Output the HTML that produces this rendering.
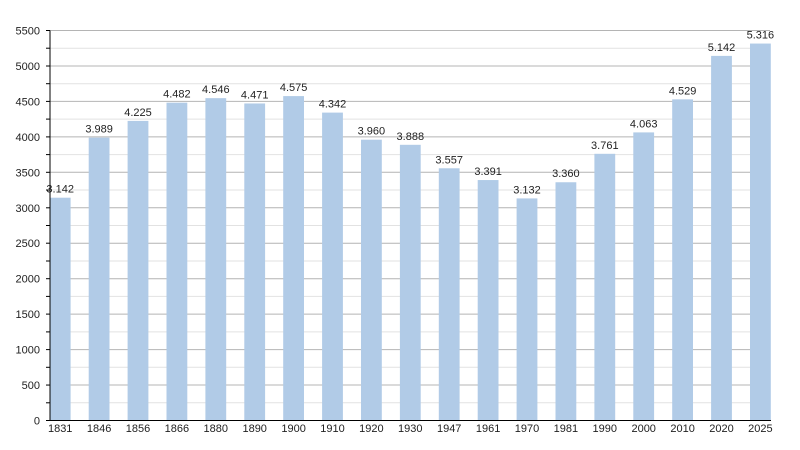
<!DOCTYPE html>
<html><head><meta charset="utf-8"><style>
html,body{margin:0;padding:0;background:#fff;}
svg{display:block;}
text{font-family:"Liberation Sans",Arial,sans-serif;font-size:11px;fill:#222;}
</style></head><body>
<svg width="800" height="450" viewBox="0 0 800 450" xmlns="http://www.w3.org/2000/svg">
<rect width="800" height="450" fill="#fff"/>
<g stroke="#e2e2e2" stroke-width="1">
<line x1="50" x2="770" y1="402.8" y2="402.8"/><line x1="50" x2="770" y1="367.3" y2="367.3"/>
<line x1="50" x2="770" y1="331.9" y2="331.9"/><line x1="50" x2="770" y1="296.4" y2="296.4"/>
<line x1="50" x2="770" y1="261.0" y2="261.0"/><line x1="50" x2="770" y1="225.5" y2="225.5"/>
<line x1="50" x2="770" y1="190.0" y2="190.0"/><line x1="50" x2="770" y1="154.6" y2="154.6"/>
<line x1="50" x2="770" y1="119.1" y2="119.1"/><line x1="50" x2="770" y1="83.7" y2="83.7"/>
<line x1="50" x2="770" y1="48.2" y2="48.2"/>
</g>
<g stroke="#b4b4b4" stroke-width="1">
<line x1="50" x2="770" y1="385.05" y2="385.05"/><line x1="50" x2="770" y1="349.6" y2="349.6"/>
<line x1="50" x2="770" y1="314.1" y2="314.1"/><line x1="50" x2="770" y1="278.7" y2="278.7"/>
<line x1="50" x2="770" y1="243.2" y2="243.2"/><line x1="50" x2="770" y1="207.8" y2="207.8"/>
<line x1="50" x2="770" y1="172.3" y2="172.3"/><line x1="50" x2="770" y1="136.9" y2="136.9"/>
<line x1="50" x2="770" y1="101.4" y2="101.4"/><line x1="50" x2="770" y1="66.0" y2="66.0"/>
<line x1="50" x2="770" y1="30.5" y2="30.5"/>
</g>
<g fill="#b1cbe7">
<rect x="49.8" y="197.70" width="20.8" height="222.80"/>
<rect x="88.7" y="137.64" width="20.8" height="282.86"/>
<rect x="127.6" y="120.91" width="20.8" height="299.59"/>
<rect x="166.5" y="102.68" width="20.8" height="317.82"/>
<rect x="205.4" y="98.15" width="20.8" height="322.35"/>
<rect x="244.3" y="103.46" width="20.8" height="317.04"/>
<rect x="283.2" y="96.09" width="20.8" height="324.41"/>
<rect x="322.1" y="112.61" width="20.8" height="307.89"/>
<rect x="361.0" y="139.70" width="20.8" height="280.80"/>
<rect x="399.9" y="144.81" width="20.8" height="275.69"/>
<rect x="438.8" y="168.28" width="20.8" height="252.22"/>
<rect x="477.7" y="180.05" width="20.8" height="240.45"/>
<rect x="516.6" y="198.41" width="20.8" height="222.09"/>
<rect x="555.5" y="182.25" width="20.8" height="238.25"/>
<rect x="594.4" y="153.81" width="20.8" height="266.69"/>
<rect x="633.3" y="132.40" width="20.8" height="288.10"/>
<rect x="672.2" y="99.35" width="20.8" height="321.15"/>
<rect x="711.1" y="55.89" width="20.8" height="364.61"/>
<rect x="750.0" y="43.55" width="20.8" height="376.95"/>
</g>
<g text-anchor="middle">
<text x="60.2" y="192.7">3.142</text>
<text x="99.1" y="132.6">3.989</text>
<text x="138.0" y="115.9">4.225</text>
<text x="176.9" y="97.7">4.482</text>
<text x="215.8" y="93.2">4.546</text>
<text x="254.7" y="98.5">4.471</text>
<text x="293.6" y="91.1">4.575</text>
<text x="332.5" y="107.6">4.342</text>
<text x="371.4" y="134.7">3.960</text>
<text x="410.3" y="139.8">3.888</text>
<text x="449.2" y="163.3">3.557</text>
<text x="488.1" y="175.0">3.391</text>
<text x="527.0" y="193.4">3.132</text>
<text x="565.9" y="177.2">3.360</text>
<text x="604.8" y="148.8">3.761</text>
<text x="643.7" y="127.4">4.063</text>
<text x="682.6" y="94.3">4.529</text>
<text x="721.5" y="50.9">5.142</text>
<text x="760.4" y="38.5">5.316</text>
</g>
<g text-anchor="middle">
<text x="60.2" y="432">1831</text>
<text x="99.1" y="432">1846</text>
<text x="138.0" y="432">1856</text>
<text x="176.9" y="432">1866</text>
<text x="215.8" y="432">1880</text>
<text x="254.7" y="432">1890</text>
<text x="293.6" y="432">1900</text>
<text x="332.5" y="432">1910</text>
<text x="371.4" y="432">1920</text>
<text x="410.3" y="432">1930</text>
<text x="449.2" y="432">1947</text>
<text x="488.1" y="432">1961</text>
<text x="527.0" y="432">1970</text>
<text x="565.9" y="432">1981</text>
<text x="604.8" y="432">1990</text>
<text x="643.7" y="432">2000</text>
<text x="682.6" y="432">2010</text>
<text x="721.5" y="432">2020</text>
<text x="760.4" y="432">2025</text>
</g>
<g text-anchor="end">
<text x="40" y="424.5">0</text>
<text x="40" y="389">500</text>
<text x="40" y="353.6">1000</text>
<text x="40" y="318.1">1500</text>
<text x="40" y="282.7">2000</text>
<text x="40" y="247.2">2500</text>
<text x="40" y="211.8">3000</text>
<text x="40" y="176.3">3500</text>
<text x="40" y="140.9">4000</text>
<text x="40" y="105.4">4500</text>
<text x="40" y="70">5000</text>
<text x="40" y="34.5">5500</text>
</g>
<g stroke="#000" stroke-width="1">
<line x1="46" x2="50" y1="402.8" y2="402.8"/><line x1="46" x2="50" y1="385.05" y2="385.05"/>
<line x1="46" x2="50" y1="367.3" y2="367.3"/><line x1="46" x2="50" y1="349.6" y2="349.6"/>
<line x1="46" x2="50" y1="331.9" y2="331.9"/><line x1="46" x2="50" y1="314.1" y2="314.1"/>
<line x1="46" x2="50" y1="296.4" y2="296.4"/><line x1="46" x2="50" y1="278.7" y2="278.7"/>
<line x1="46" x2="50" y1="261.0" y2="261.0"/><line x1="46" x2="50" y1="243.2" y2="243.2"/>
<line x1="46" x2="50" y1="225.5" y2="225.5"/><line x1="46" x2="50" y1="207.8" y2="207.8"/>
<line x1="46" x2="50" y1="190.0" y2="190.0"/><line x1="46" x2="50" y1="172.3" y2="172.3"/>
<line x1="46" x2="50" y1="154.6" y2="154.6"/><line x1="46" x2="50" y1="136.9" y2="136.9"/>
<line x1="46" x2="50" y1="119.1" y2="119.1"/><line x1="46" x2="50" y1="101.4" y2="101.4"/>
<line x1="46" x2="50" y1="83.7" y2="83.7"/><line x1="46" x2="50" y1="66.0" y2="66.0"/>
<line x1="46" x2="50" y1="48.2" y2="48.2"/><line x1="46" x2="50" y1="30.5" y2="30.5"/>
<line x1="50" x2="50" y1="30.5" y2="421"/>
<line x1="46" x2="771" y1="420.5" y2="420.5"/>
</g>
</svg>
</body></html>
